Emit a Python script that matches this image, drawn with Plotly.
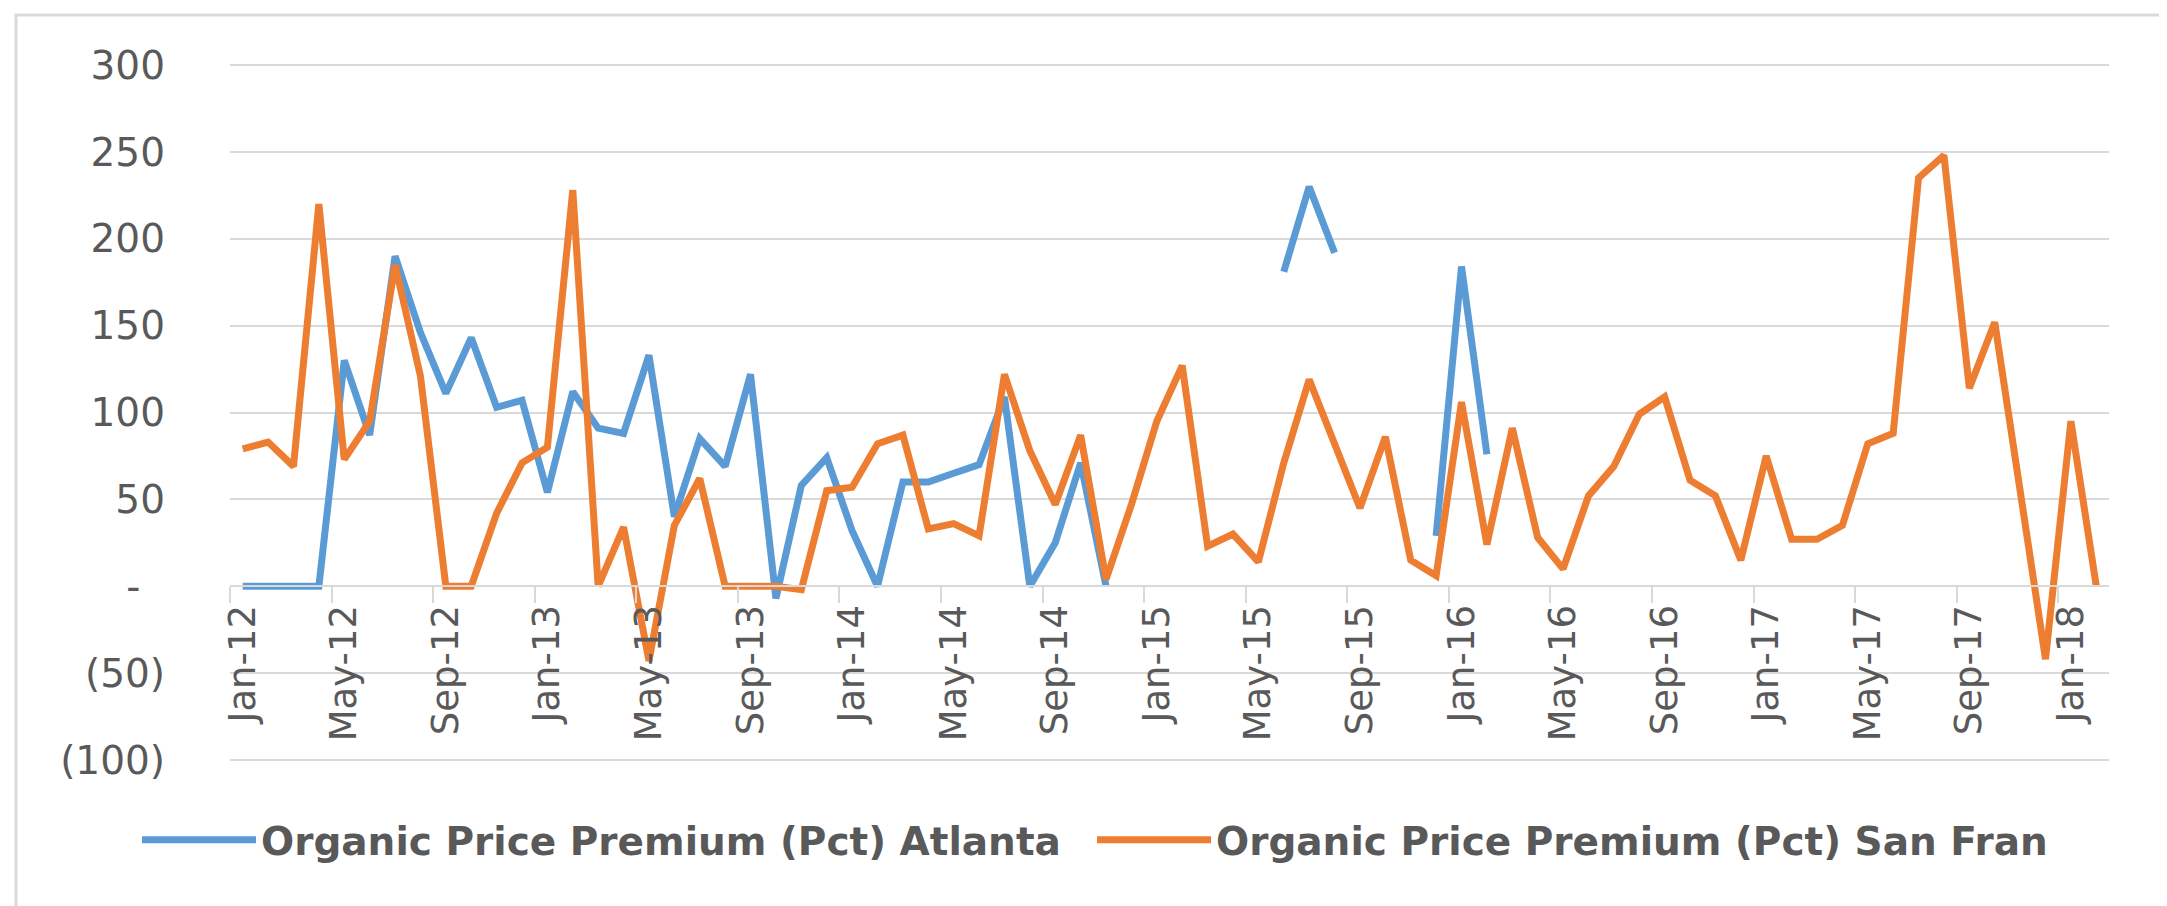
import plotly.graph_objects as go

months = [
    "Jan-12", "Feb-12", "Mar-12", "Apr-12", "May-12", "Jun-12", "Jul-12", "Aug-12", "Sep-12", "Oct-12", "Nov-12", "Dec-12",
    "Jan-13", "Feb-13", "Mar-13", "Apr-13", "May-13", "Jun-13", "Jul-13", "Aug-13", "Sep-13", "Oct-13", "Nov-13", "Dec-13",
    "Jan-14", "Feb-14", "Mar-14", "Apr-14", "May-14", "Jun-14", "Jul-14", "Aug-14", "Sep-14", "Oct-14", "Nov-14", "Dec-14",
    "Jan-15", "Feb-15", "Mar-15", "Apr-15", "May-15", "Jun-15", "Jul-15", "Aug-15", "Sep-15", "Oct-15", "Nov-15", "Dec-15",
    "Jan-16", "Feb-16", "Mar-16", "Apr-16", "May-16", "Jun-16", "Jul-16", "Aug-16", "Sep-16", "Oct-16", "Nov-16", "Dec-16",
    "Jan-17", "Feb-17", "Mar-17", "Apr-17", "May-17", "Jun-17", "Jul-17", "Aug-17", "Sep-17", "Oct-17", "Nov-17", "Dec-17",
    "Jan-18", "Feb-18",
]

atlanta = [
    0, 0, 0, 0, 130, 87, 190, 146, 111, 143, 103, 107,
    54, 112, 91, 88, 133, 40, 85, 69, 122, -7, 58, 74,
    32, 0, 60, 60, 65, 70, 109, 0, 25, 71, 0, None,
    None, None, None, None, None, 181, 230, 192, None, None, None, 29,
    184, 76, None, None, None, None, None, None, None, None, None, None,
    None, None, None, None, None, None, None, None, None, None, None, None,
    None, None,
]

san_fran = [
    79, 83, 69, 220, 73, 95, 185, 121, 0, 0, 42, 71,
    80, 228, 0, 34, -43, 35, 62, 0, 0, 0, -2, 55,
    57, 82, 87, 33, 36, 29, 122, 78, 47, 87, 4, 47,
    95, 127, 23, 30, 14, 71, 119, 82, 45, 86, 15, 6,
    106, 24, 91, 28, 10, 52, 69, 99, 109, 61, 52, 15,
    75, 27, 27, 35, 82, 88, 235, 248, 114, 152, 55, -42,
    95, 0,
]

y_tick_vals = [300, 250, 200, 150, 100, 50, 0, -50, -100]
y_tick_text = ["300", "250", "200", "150", "100", "50", "-\u00a0\u00a0", "(50)", "(100)"]

series_names = ["Organic Price Premium (Pct) Atlanta", "Organic Price Premium (Pct) San Fran"]
series_colors = ["#5B9BD5", "#ED7D31"]

fig = go.Figure()
for name, vals, col in zip(series_names, [atlanta, san_fran], series_colors):
    fig.add_trace(go.Scatter(
        x=months, y=vals, name=name, mode="lines",
        line=dict(color=col, width=7),
        connectgaps=False,
    ))

W, H = 2167, 906
L, R, T, B = 222, 66, 56, 153
Y0, Y1 = -100.6, 300.6
pw = W - L - R
ph = H - T - B

def px_x(px):
    return (px - L) / pw

def px_y(py):
    return (H - B - py) / ph

fig.update_layout(
    width=W, height=H,
    margin=dict(l=L, r=R, t=T, b=B, autoexpand=False),
    paper_bgcolor="white",
    plot_bgcolor="white",
    showlegend=True,
    legend=dict(
        orientation="h",
        xref="paper", yref="paper",
        x=px_x(129), xanchor="left",
        y=px_y(832), yanchor="middle",
        font=dict(family="DejaVu Sans", size=39, color="#595959", weight="bold"),
        itemwidth=114,
        entrywidth=826,
        entrywidthmode="pixels",
        bgcolor="rgba(0,0,0,0)",
    ),
    shapes=[
        dict(type="rect", xref="paper", yref="paper",
             x0=px_x(8), x1=px_x(2159), y0=px_y(901), y1=px_y(7),
             line=dict(color="#d9d9d9", width=3), fillcolor="rgba(0,0,0,0)", layer="below"),
    ],
)

fig.update_xaxes(
    type="category",
    categoryorder="array", categoryarray=months,
    range=[-0.5, len(months) - 0.5],
    anchor="free", position=(0 - Y0) / (Y1 - Y0),
    dtick=4, tick0=0,
    tickson="boundaries",
    ticks="outside", ticklen=16, tickwidth=2, tickcolor="#d9d9d9",
    tickangle=-90,
    ticklabelstandoff=3,
    tickfont=dict(family="DejaVu Sans", size=37, color="#595959"),
    showline=True, linecolor="#d9d9d9", linewidth=2,
    showgrid=False, zeroline=False,
)

fig.update_yaxes(
    range=[Y0, Y1],
    tickvals=y_tick_vals, ticktext=y_tick_text,
    tickfont=dict(family="DejaVu Sans", size=39, color="#595959"),
    ticklabelstandoff=64,
    showgrid=True, gridcolor="#d9d9d9", gridwidth=2,
    zeroline=False, showline=False, ticks="",
)

fig.write_html("out.html")
